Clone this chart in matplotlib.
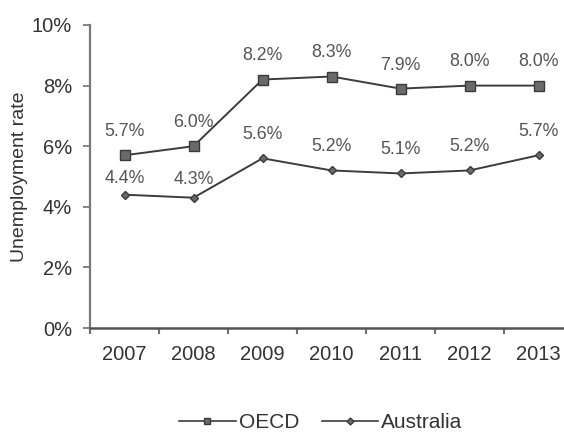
import matplotlib
matplotlib.use("Agg")
import matplotlib.pyplot as plt
from matplotlib.lines import Line2D
import numpy as np

years = ["2007", "2008", "2009", "2010", "2011", "2012", "2013"]
oecd = [5.7, 6.0, 8.2, 8.3, 7.9, 8.0, 8.0]
australia = [4.4, 4.3, 5.6, 5.2, 5.1, 5.2, 5.7]
yticks = [0, 2, 4, 6, 8, 10]

plt.rcParams["font.family"] = ["Liberation Sans", "DejaVu Sans"]

W, H = 564, 437
fig = plt.figure(figsize=(W / 100, H / 100), dpi=100)
ax = fig.add_axes([90 / W, 1 - 328 / H, 483 / W, 303 / H])

line_col = "#3c3c3c"
text_col = "#333333"
x = np.arange(len(years))

ax.plot(x, oecd, color=line_col, lw=1.4, marker="s", ms=6.5,
        mfc="#6a6a6a", mec="#3a3a3a", mew=1.0, label="OECD", clip_on=False)
ax.plot(x, australia, color=line_col, lw=1.4, marker="D", ms=4.5,
        mfc="#6a6a6a", mec="#3a3a3a", mew=1.0, label="Australia", clip_on=False)

for i, v in enumerate(oecd):
    ax.annotate(f"{v:.1f}%", (i, v), xytext=(0, 17), textcoords="offset points",
                ha="center", va="center", fontsize=12.8, color="#555555")
aus_off = [12, 13, 17, 17, 17, 17, 17]
for i, v in enumerate(australia):
    ax.annotate(f"{v:.1f}%", (i, v), xytext=(0, aus_off[i]), textcoords="offset points",
                ha="center", va="center", fontsize=12.8, color="#555555")

ax.set_xlim(-0.5, len(years) - 0.5)
ax.set_ylim(0, 10)
ax.set_yticks(yticks)
ax.set_yticklabels([f"{t}%" for t in yticks], fontsize=14.5, color=text_col)
ax.set_xticks(x)
ax.set_xticklabels(years, fontsize=14.5, color=text_col)
ax.tick_params(axis="x", length=0, pad=12)
ax.set_xticks(np.arange(len(years) + 1) - 0.5, minor=True)
ax.tick_params(axis="x", which="minor", length=4, width=1.5, color="#707070", direction="out")
ax.tick_params(axis="y", length=5, width=1.2, color="#707070", pad=8)

for s in ("top", "right"):
    ax.spines[s].set_visible(False)
ax.spines["left"].set_color("#7a7a7a")
ax.spines["left"].set_linewidth(1.6)
ax.spines["bottom"].set_color("#555555")
ax.spines["bottom"].set_linewidth(1.8)

ax.set_ylabel("Unemployment rate", fontsize=14, color=text_col, labelpad=3)

handles = [
    Line2D([], [], color=line_col, lw=1.2, marker="s", ms=5, mfc="#6a6a6a", mec="#3a3a3a"),
    Line2D([], [], color=line_col, lw=1.2, marker="D", ms=3.5, mfc="#6a6a6a", mec="#3a3a3a"),
]
fig.legend(handles, ["OECD", "Australia"], loc="center", bbox_to_anchor=(321 / W, 1 - 423 / H),
           ncol=2, frameon=False, fontsize=15, handlelength=2.7, handletextpad=0.15,
           columnspacing=1.1, labelcolor=text_col)

fig.savefig("out.png", dpi=100)
